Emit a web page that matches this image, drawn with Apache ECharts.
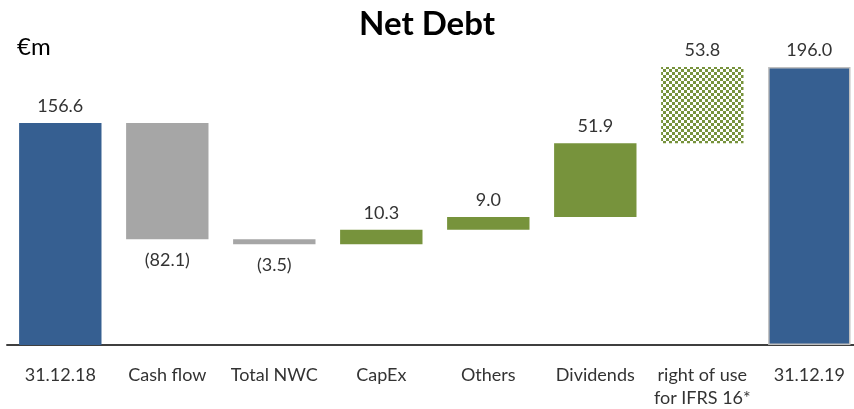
<!DOCTYPE html>
<html><head><meta charset="utf-8">
<script src="https://cdn.jsdelivr.net/npm/echarts@6/dist/echarts.min.js"></script>
<style>html,body{margin:0;padding:0;background:#fff}#c{width:854px;height:409px}</style>
</head><body><div id="c"></div>
<script>
const categories = ['31.12.18','Cash flow','Total NWC','CapEx','Others','Dividends','right of use\nfor IFRS 16*','31.12.19'];
const changes = [156.6, -82.1, -3.5, 10.3, 9.0, 51.9, 53.8, 196.0];
const kinds = ['total','neg','neg','pos','pos','pos','hatch','total'];
const tickLabels = categories;

const FONT = 'Lato, "Liberation Sans", sans-serif';
const colors = {total:'#365F91', neg:'#A6A6A6', pos:'#77933C'};

// checker pattern
const pc = document.createElement('canvas');
pc.width = 6; pc.height = 6;
const pctx = pc.getContext('2d');
pctx.fillStyle = '#ffffff'; pctx.fillRect(0,0,6,6);
pctx.fillStyle = '#77933C';
pctx.fillRect(0,0,3,3); pctx.fillRect(3,3,3,3);

// compute floating bases
const base = [], size = [];
let run = 0;
changes.forEach((v,i)=>{
  if (kinds[i]==='total'){ base.push(0); size.push(v); run = v; }
  else if (v<0){ run += v; base.push(run); size.push(-v); }
  else { base.push(run); size.push(v); run += v; }
});

function fmt(v){ return v<0 ? '(' + Math.abs(v).toFixed(1) + ')' : v.toFixed(1); }

const visData = size.map((s,i)=>{
  const k = kinds[i];
  const d = {value: s, itemStyle:{}, label:{}};
  if (k==='hatch') d.itemStyle.color = {image: pc, repeat:'repeat'};
  else d.itemStyle.color = colors[k];
  if (i===categories.length-1){ d.itemStyle.borderColor='#BFBFBF'; d.itemStyle.borderWidth=1.5; }
  if (changes[i]<0){ d.label.position='bottom'; d.label.distance=12; }
  else { d.label.position='top'; d.label.distance=8; }
  d.label.formatter = fmt(changes[i]);
  return d;
});

const chart = echarts.init(document.getElementById('c'));
chart.setOption({
  animation:false,
  title:[{text:'Net Debt', left:'center', top:3, textStyle:{fontFamily:FONT, fontSize:33, fontWeight:'bold', color:'#000'}},
         {text:'€m', left:12, top:30, textStyle:{fontFamily:FONT, fontSize:24, fontWeight:'normal', color:'#000'}}],
  grid:{left:6.8, width:856, top:61.4, bottom:64, containLabel:false, outerBoundsMode:'none'},
  xAxis:{type:'category', data:tickLabels,
    axisLine:{lineStyle:{color:'#000', width:1.5}}, axisTick:{show:false},
    axisLabel:{interval:0, fontFamily:FONT, fontSize:18, color:'#333', margin:19, lineHeight:23}},
  yAxis:{type:'value', min:0, max:200, show:false, splitLine:{show:false}},
  series:[
    {type:'bar', stack:'w', data:base, itemStyle:{color:'transparent'}, barWidth:'77%', silent:true},
    {type:'bar', stack:'w', data:visData, barWidth:'77%',
      label:{show:true, fontFamily:FONT, fontSize:18, color:'#333'}}
  ]
});
</script></body></html>
